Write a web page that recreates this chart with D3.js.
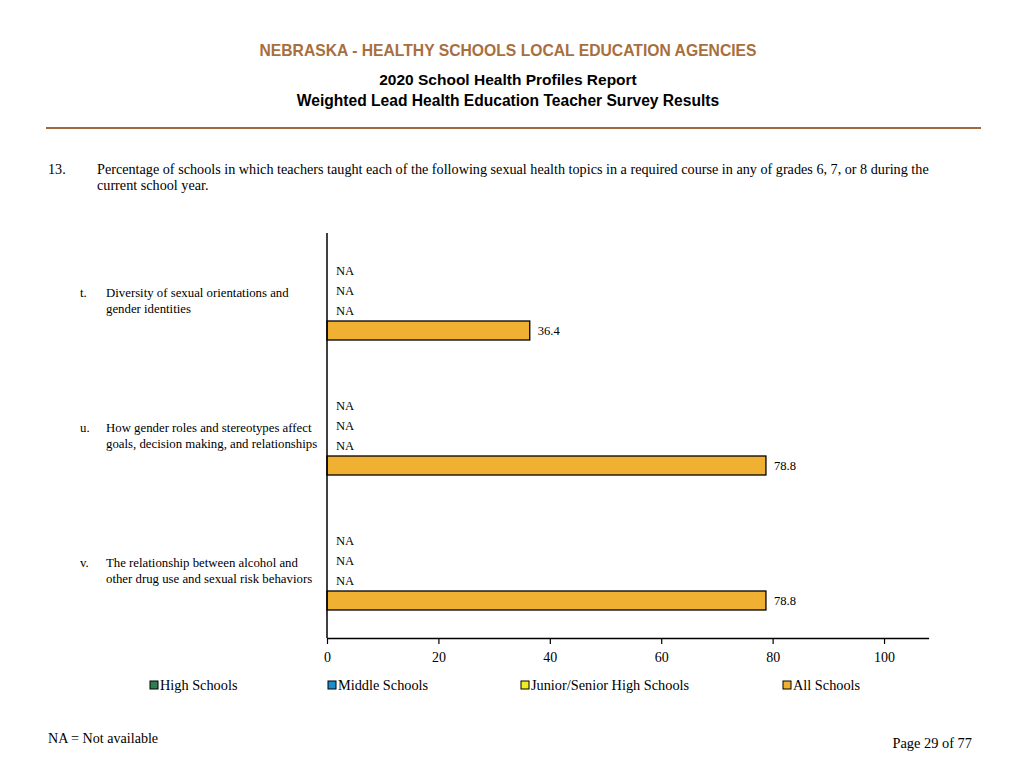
<!DOCTYPE html>
<html>
<head>
<meta charset="utf-8">
<script src="https://cdn.jsdelivr.net/npm/d3@7"></script>
<style>
  html, body { margin: 0; padding: 0; background: #fff; }
  svg { display: block; }
</style>
</head>
<body>
<script>
// ---- Data ----
const categoryLetters = ["t.", "u.", "v."];
const categoryLabels = [
  ["Diversity of sexual orientations and", "gender identities"],
  ["How gender roles and stereotypes affect", "goals, decision making, and relationships"],
  ["The relationship between alcohol and", "other drug use and sexual risk behaviors"]
];
const seriesNames = ["High Schools", "Middle Schools", "Junior/Senior High Schools", "All Schools"];
const highSchools = [null, null, null];
const middleSchools = [null, null, null];
const juniorSeniorHighSchools = [null, null, null];
const allSchools = [36.4, 78.8, 78.8];
const tickValues = [0, 20, 40, 60, 80, 100];

const seriesValues = [highSchools, middleSchools, juniorSeniorHighSchools, allSchools];
const seriesColors = ["#2E7D4F", "#1A8FC9", "#F2EE1E", "#F0B132"];

const W = 1024, H = 768;
const svg = d3.select("body").append("svg").attr("width", W).attr("height", H);

const serif = "'Liberation Serif', 'Times New Roman', serif";
const sans = "'Liberation Sans', Arial, sans-serif";

// ---- Header ----
svg.append("text").attr("x", 508).attr("y", 56).attr("text-anchor", "middle")
  .attr("font-family", sans).attr("font-weight", "bold").attr("font-size", 15.7)
  .attr("fill", "#A86F3E").text("NEBRASKA - HEALTHY SCHOOLS LOCAL EDUCATION AGENCIES");
svg.append("text").attr("x", 508).attr("y", 84.5).attr("text-anchor", "middle")
  .attr("font-family", sans).attr("font-weight", "bold").attr("font-size", 15.5)
  .attr("fill", "#000").text("2020 School Health Profiles Report");
svg.append("text").attr("x", 508).attr("y", 105.5).attr("text-anchor", "middle")
  .attr("font-family", sans).attr("font-weight", "bold").attr("font-size", 15.6)
  .attr("fill", "#000").text("Weighted Lead Health Education Teacher Survey Results");
svg.append("line").attr("x1", 46).attr("x2", 981).attr("y1", 128).attr("y2", 128)
  .attr("stroke", "#A0693D").attr("stroke-width", 2);

// ---- Question ----
svg.append("text").attr("x", 48).attr("y", 173.5).attr("font-family", serif).attr("font-size", 14.2)
  .text("13.");
svg.append("text").attr("x", 97).attr("y", 173.5).attr("font-family", serif).attr("font-size", 14.2)
  .text("Percentage of schools in which teachers taught each of the following sexual health topics in a required course in any of grades 6, 7, or 8 during the");
svg.append("text").attr("x", 97).attr("y", 190).attr("font-family", serif).attr("font-size", 14.2)
  .text("current school year.");

// ---- Scales ----
const x = d3.scaleLinear().domain([0, 108]).range([327, 928.6]);
const y = d3.scaleBand().domain(categoryLetters).range([233, 638]).paddingInner(0).paddingOuter(0);
const yInner = d3.scaleBand().domain(seriesNames)
  .range([27.5, y.bandwidth() - 27.5]).paddingInner(0.05).paddingOuter(0.025);

// ---- Bars ----
const groups = svg.append("g").selectAll("g").data(categoryLetters).join("g")
  .attr("transform", d => `translate(0,${y(d)})`);

groups.each(function(cat, ci) {
  const g = d3.select(this);
  seriesNames.forEach((s, si) => {
    const v = seriesValues[si][ci];
    const yy = yInner(s);
    const h = yInner.bandwidth();
    if (v == null) {
      g.append("text").attr("x", x(0) + 9).attr("y", yy + h / 2).attr("dy", "0.35em")
        .attr("font-family", serif).attr("font-size", 12.6).text("NA");
    } else {
      g.append("rect").attr("x", x(0)).attr("y", yy).attr("width", x(v) - x(0)).attr("height", h)
        .attr("fill", seriesColors[si]).attr("stroke", "#000").attr("stroke-width", 1.3);
      g.append("text").attr("x", x(v) + 8).attr("y", yy + h / 2).attr("dy", "0.35em")
        .attr("font-family", serif).attr("font-size", 12.6).text(v.toFixed(1));
    }
  });
  // category label
  const cy = y.bandwidth() / 2;
  g.append("text").attr("x", 80).attr("y", cy - 8).attr("dy", "0.35em")
    .attr("font-family", serif).attr("font-size", 12.8).text(cat);
  categoryLabels[ci].forEach((line, li) => {
    g.append("text").attr("x", 106).attr("y", cy - 8 + li * 16).attr("dy", "0.35em")
      .attr("font-family", serif).attr("font-size", 12.8).text(line);
  });
});

// ---- Axes ----
const xAxis = svg.append("g").attr("transform", "translate(0,638)")
  .call(d3.axisBottom(x).tickValues(tickValues).tickSize(6).tickSizeOuter(0).tickPadding(8));
xAxis.select(".domain").attr("stroke", "#000").attr("stroke-width", 1.5);
xAxis.selectAll(".tick line").attr("stroke", "#000").attr("stroke-width", 1.2);
xAxis.selectAll(".tick text").attr("font-family", serif).attr("font-size", 14).attr("fill", "#000");

svg.append("line").attr("x1", x(0)).attr("x2", x(0)).attr("y1", 233).attr("y2", 638)
  .attr("stroke", "#000").attr("stroke-width", 1.5);

// ---- Legend ----
const legendX = [150, 328, 521, 783];
const legend = svg.append("g").selectAll("g").data(seriesNames).join("g")
  .attr("transform", (d, i) => `translate(${legendX[i]},685)`);
legend.append("rect").attr("x", 0).attr("y", -4).attr("width", 8).attr("height", 8)
  .attr("fill", (d, i) => seriesColors[i]).attr("stroke", "#000").attr("stroke-width", 1);
legend.append("text").attr("x", 10).attr("y", 0).attr("dy", "0.35em")
  .attr("font-family", serif).attr("font-size", 14.3).text(d => d);

// ---- Footer ----
svg.append("text").attr("x", 48).attr("y", 743).attr("font-family", serif).attr("font-size", 14.1)
  .text("NA = Not available");
svg.append("text").attr("x", 972).attr("y", 748).attr("text-anchor", "end")
  .attr("font-family", serif).attr("font-size", 14.4).text("Page 29 of 77");
</script>
</body>
</html>
